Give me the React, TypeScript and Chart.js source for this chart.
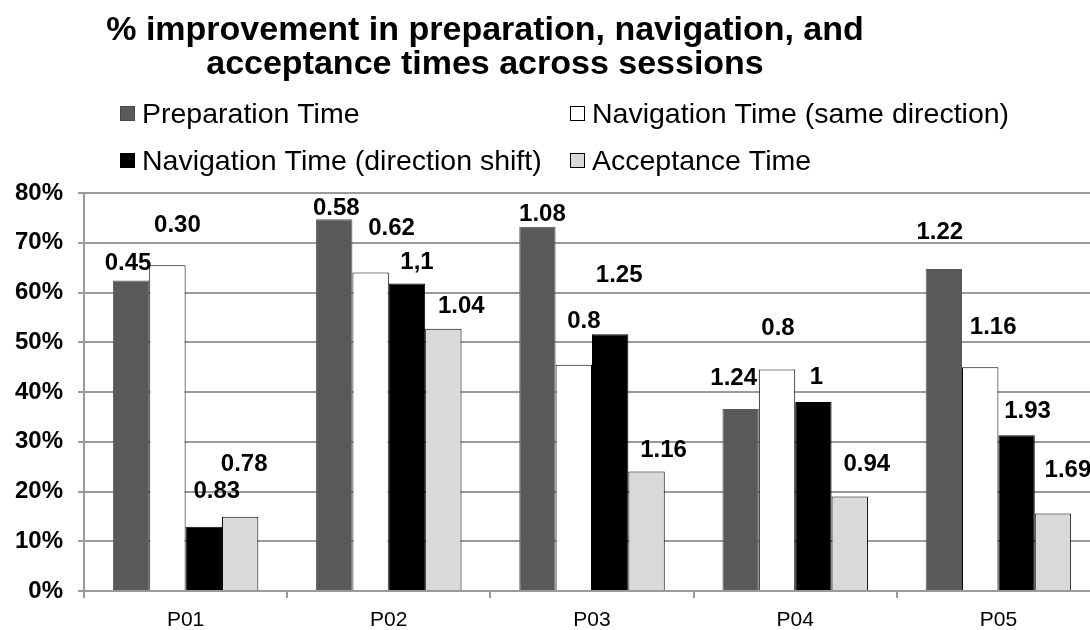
import React, { useEffect, useRef } from 'react';
import { Chart, registerables } from 'chart.js';

Chart.register(...registerables);

const FONT = "'Liberation Sans', Arial, sans-serif";

// ---- data ----
const categories = ['P01', 'P02', 'P03', 'P04', 'P05'];
const seriesNames = [
  'Preparation Time',
  'Navigation Time (same direction)',
  'Navigation Time (direction shift)',
  'Acceptance Time',
];
const preparation = [62.4, 74.7, 73.2, 36.6, 64.7];
const navSame = [65.5, 64.0, 45.5, 44.5, 45.0];
const navShift = [12.9, 61.8, 51.6, 38.0, 31.3];
const acceptance = [14.9, 52.7, 24.0, 19.0, 15.6];

const prepLabels = ['0.45', '0.58', '1.08', '1.24', '1.22'];
const navSameLabels = ['0.30', '0.62', '0.8', '0.8', '1.16'];
const navShiftLabels = ['0.83', '1,1', '1.25', '1', '1.93'];
const acceptLabels = ['0.78', '1.04', '1.16', '0.94', '1.69'];

const titleLines = ['% improvement in preparation, navigation, and', 'acceptance times across sessions'];

// ---- styles ----
const seriesColors = ['#595959', '#ffffff', '#000000', '#d9d9d9'];
const seriesBorders = ['#595959', '#000000', '#000000', '#000000'];
const GRID = '#9a9a9a';

// label offsets [dx, dy] from bar top-centre (pixels)
const labelOffsets = [
  [[-3, 17], [2, 11], [5, 12], [-7, 31], [-4, 37]],
  [[10, 40], [21, 44], [10, 43], [1, 41], [13, 40]],
  [[13, 35], [10, 21], [9, 59], [3, 25], [11, 24]],
  [[4, 52], [18, 22], [17, 21], [17, 32], [15, 43]],
];

const overlayPlugin = {
  id: 'overlay',
  afterDatasetsDraw(chart: any) {
    const ctx = chart.ctx;
    ctx.save();
    // data labels
    ctx.font = `bold 24px ${FONT}`;
    ctx.fillStyle = '#000';
    ctx.textAlign = 'center';
    ctx.textBaseline = 'middle';
    chart.data.datasets.forEach((ds: any, i: number) => {
      const meta = chart.getDatasetMeta(i);
      meta.data.forEach((bar: any, j: number) => {
        const [dx, dy] = labelOffsets[i][j];
        ctx.fillText(ds.valueLabels[j], bar.x + dx, bar.y - dy);
      });
    });
    // title
    ctx.font = `bold 34px ${FONT}`;
    ctx.textBaseline = 'alphabetic';
    titleLines.forEach((t, k) => ctx.fillText(t, 485, 40 + 34 * k));
    // legend
    const colX = [120, 570];
    const rowY = [106, 153];
    ctx.font = `28.5px ${FONT}`;
    ctx.textAlign = 'left';
    chart.data.datasets.forEach((ds: any, i: number) => {
      const x = colX[i % 2];
      const y = rowY[Math.floor(i / 2)];
      ctx.fillStyle = ds.backgroundColor;
      ctx.fillRect(x, y, 15, 15);
      ctx.lineWidth = 1;
      ctx.strokeStyle = i === 0 ? '#4a4a4a' : '#000';
      ctx.strokeRect(x + 0.5, y + 0.5, 14, 14);
      ctx.fillStyle = '#000';
      ctx.fillText(ds.label, x + 22, y + 17);
    });
    ctx.restore();
  },
};

export default function App() {
  const ref = useRef<HTMLCanvasElement>(null);
  useEffect(() => {
    const values = [preparation, navSame, navShift, acceptance];
    const labels = [prepLabels, navSameLabels, navShiftLabels, acceptLabels];
    const chart = new Chart(ref.current as HTMLCanvasElement, {
      type: 'bar',
      data: {
        labels: categories,
        datasets: values.map((v, i) => ({
          label: seriesNames[i],
          data: v,
          valueLabels: labels[i],
          backgroundColor: seriesColors[i],
          borderColor: seriesBorders[i],
          borderWidth: 1,
          categoryPercentage: 0.716,
          barPercentage: 1,
        })) as any,
      },
      options: {
        animation: false,
        responsive: false,
        devicePixelRatio: 1,
        layout: { padding: { top: 193, right: 10, left: 0, bottom: 0 } },
        plugins: {
          legend: { display: false },
          title: { display: false },
          tooltip: { enabled: false },
        },
        scales: {
          x: {
            grid: { display: true, drawOnChartArea: false, drawTicks: true, tickLength: 7, color: GRID, lineWidth: 2, offset: true },
            border: { display: true, color: GRID, width: 2 },
            ticks: { color: '#000', font: { family: FONT, size: 21 }, padding: 10 },
            afterFit: (s: any) => { s.height = 39; },
          },
          y: {
            min: 0,
            max: 80,
            ticks: {
              stepSize: 10,
              callback: (v: any) => v + '%',
              color: '#000',
              font: { family: FONT, size: 24, weight: 'bold' },
              padding: 15,
            },
            grid: { color: GRID, lineWidth: 2, tickLength: 6, drawTicks: true },
            border: { color: GRID, width: 2 },
            afterFit: (s: any) => { s.width = 84; },
          },
        },
      } as any,
      plugins: [overlayPlugin],
    });
    return () => chart.destroy();
  }, []);
  return (
    <div style={{ position: 'fixed', left: 0, top: 0, width: 1090, height: 630, overflow: 'hidden', background: '#fff' }}>
      <canvas ref={ref} width={1110} height={630} style={{ display: 'block', width: 1110, height: 630 }} />
    </div>
  );
}
